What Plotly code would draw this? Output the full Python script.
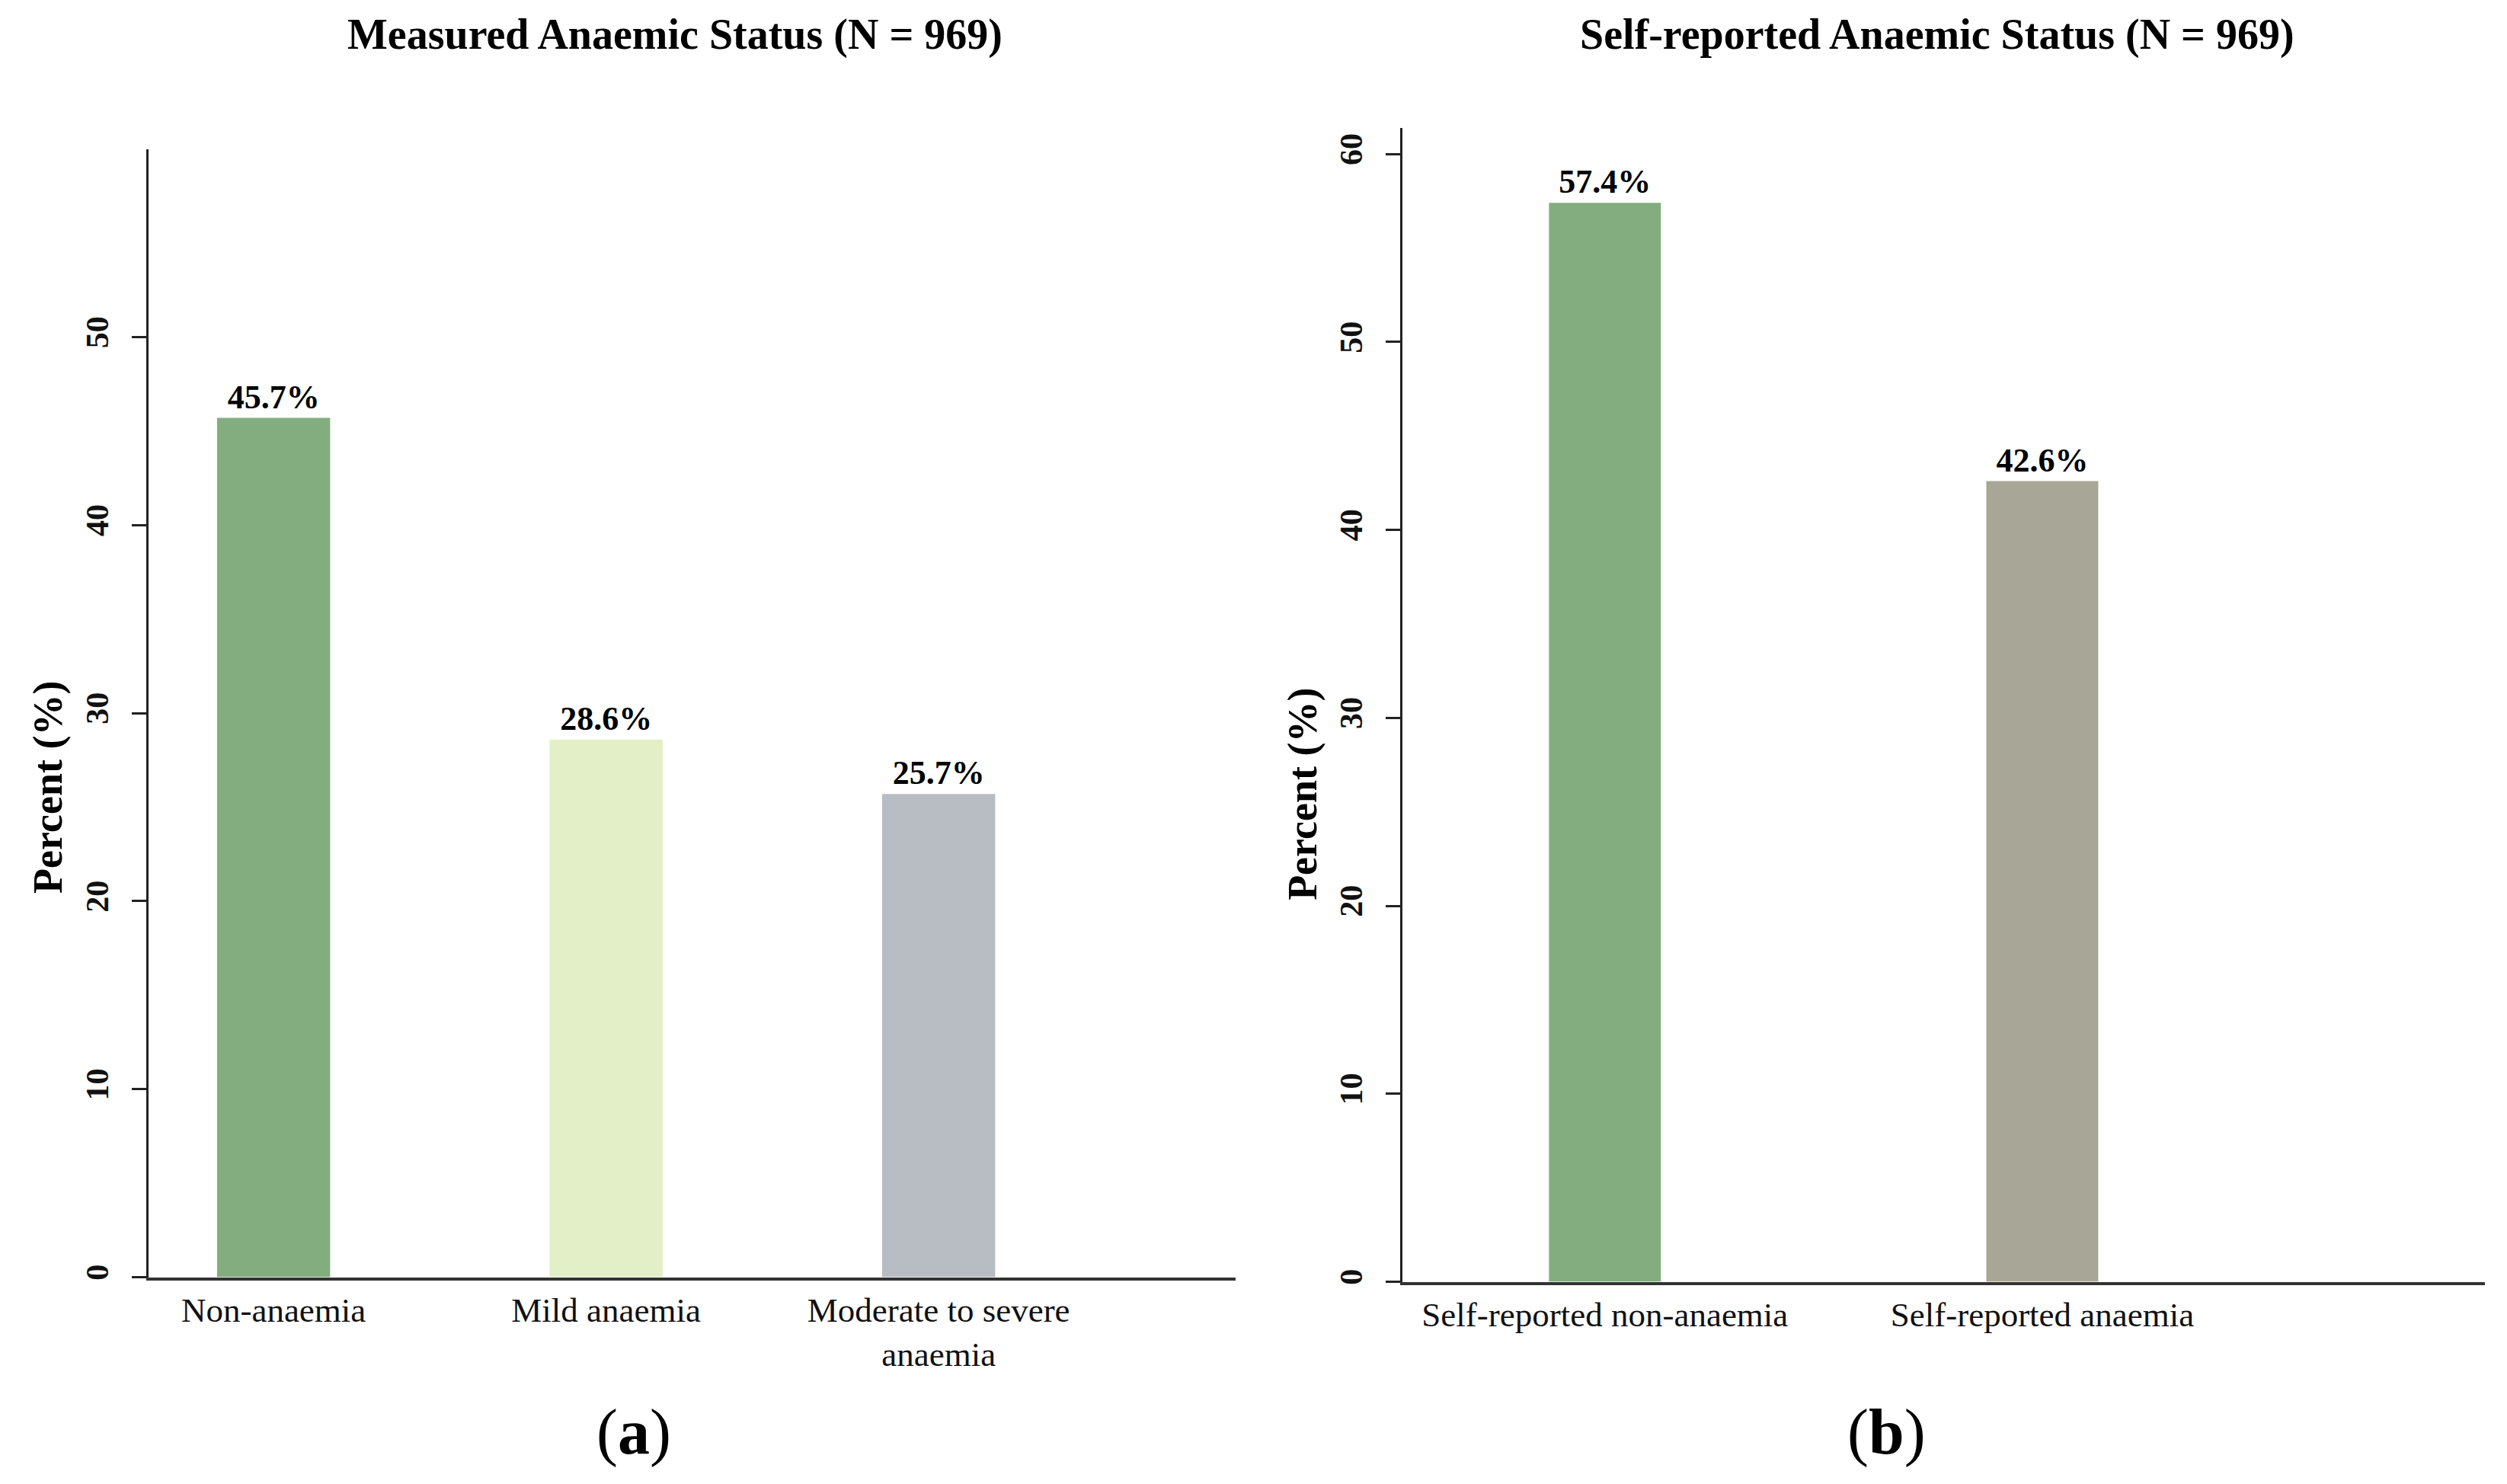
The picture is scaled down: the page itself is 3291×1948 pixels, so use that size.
import plotly.graph_objects as go

# ---- data ----
cats_a = ["Non-anaemia", "Mild anaemia", "Moderate to severe<br>anaemia"]
vals_a = [45.7, 28.6, 25.7]
cats_b = ["Self-reported non-anaemia", "Self-reported anaemia"]
vals_b = [57.4, 42.6]
ticks_a = [0, 10, 20, 30, 40, 50]
ticks_b = [0, 10, 20, 30, 40, 50, 60]
title_a = "Measured Anaemic Status (N = 969)"
title_b = "Self-reported Anaemic Status (N = 969)"

colors_a = ["#84AD7F", "#E3EFC7", "#B8BCC3"]
colors_b = ["#84AD7F", "#A8A696"]

W, H = 3291, 1948
FONT = "Liberation Serif, Times New Roman, serif"

fig = go.Figure()
fig.add_trace(go.Bar(
    x=cats_a, y=vals_a, marker=dict(color=colors_a, line=dict(width=0)),
    width=0.34, texttemplate="<b>%{y:.1f}%</b>", textposition="outside",
    textfont=dict(family=FONT, size=44, color="#000"), cliponaxis=False,
    xaxis="x", yaxis="y", showlegend=False))
fig.add_trace(go.Bar(
    x=cats_b, y=vals_b, marker=dict(color=colors_b, line=dict(width=0)),
    width=0.256, texttemplate="<b>%{y:.1f}%</b>", textposition="outside",
    textfont=dict(family=FONT, size=44, color="#000"), cliponaxis=False,
    xaxis="x2", yaxis="y2", showlegend=False))

xcommon = dict(type="category", showline=True, linecolor="#333333", linewidth=4,
               ticks="", showgrid=False, zeroline=False,
               tickfont=dict(family=FONT, size=45, color="#111"))
ycommon = dict(showline=True, linecolor="#222222", linewidth=3, ticks="outside",
               ticklen=19, tickwidth=3, tickcolor="#222", showgrid=False,
               zeroline=False, tickangle=-90, ticklabelstandoff=14,
               tickfont=dict(family=FONT, size=42, color="#111", weight="bold"))

fig.update_layout(
    width=W, height=H, margin=dict(l=0, r=0, t=0, b=0),
    paper_bgcolor="white", plot_bgcolor="white",
    font=dict(family=FONT, color="#000"),
    xaxis=dict(domain=[187 / W, 1614 / W], range=[-0.376, 2.893], anchor="y", **xcommon),
    yaxis=dict(domain=[1 - 1672 / H, 1 - 188 / H], range=[0, 60], tickvals=ticks_a,
               anchor="x", **ycommon),
    xaxis2=dict(domain=[1833 / W, 3254 / W], range=[-0.463, 2.012], anchor="y2", **xcommon),
    yaxis2=dict(domain=[1 - 1678 / H, 1 - 160 / H], range=[0, 61.4], tickvals=ticks_b,
                anchor="x2", **ycommon),
)

ann = [
    dict(text="<b>" + title_a + "</b>", x=878 / W, y=1 - 38 / H, font=dict(size=56)),
    dict(text="<b>" + title_b + "</b>", x=2535 / W, y=1 - 38 / H, font=dict(size=56)),
    dict(text="<b>Percent (%)</b>", x=55 / W, y=1 - 1028 / H, textangle=-90, font=dict(size=54)),
    dict(text="<b>Percent (%)</b>", x=1702 / W, y=1 - 1036 / H, textangle=-90, font=dict(size=54)),
    dict(text="(<b>a</b>)", x=824 / W, y=1 - 1876 / H, font=dict(size=84)),
    dict(text="(<b>b</b>)", x=2468 / W, y=1 - 1876 / H, font=dict(size=84)),
]
for a in ann:
    a.update(xref="paper", yref="paper", showarrow=False, xanchor="center", yanchor="middle")
    a["font"].update(family=FONT, color="#000")
fig.update_layout(annotations=ann)

fig.write_html("out.html")
